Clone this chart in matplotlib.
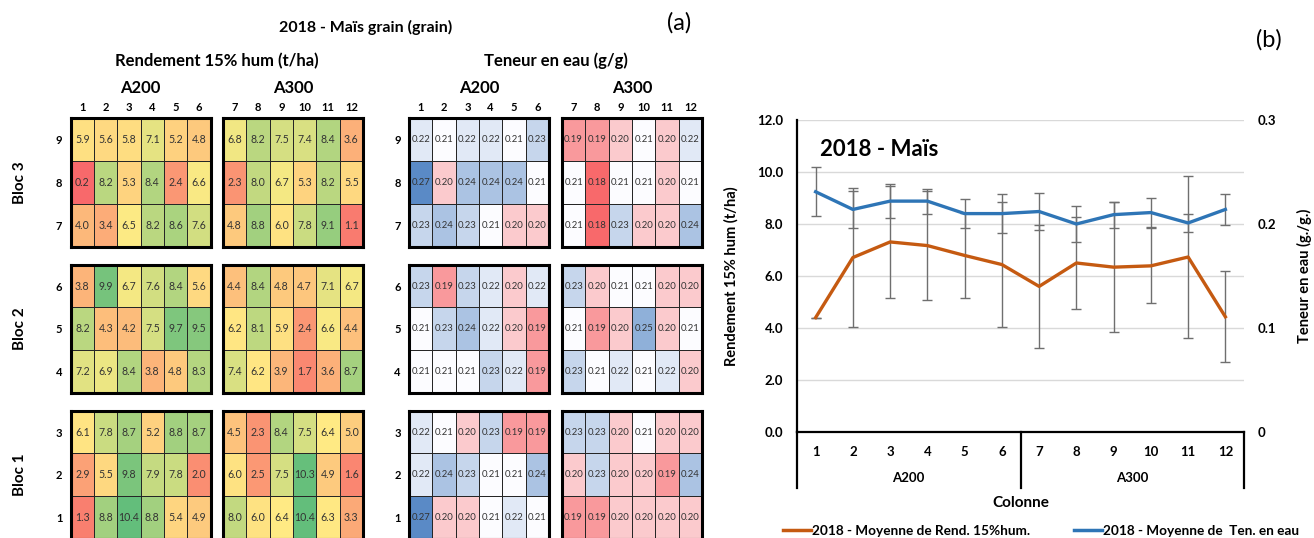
import matplotlib
matplotlib.use("Agg")
import matplotlib.pyplot as plt
import numpy as np
from matplotlib.colors import LinearSegmentedColormap, Normalize
from matplotlib.lines import Line2D

plt.rcParams['font.family'] = ['Lato', 'DejaVu Sans']

# ---- data -------------------------------------------------------------
rows = [9, 8, 7, 6, 5, 4, 3, 2, 1]          # top to bottom
cols_a200 = [1, 2, 3, 4, 5, 6]
cols_a300 = [7, 8, 9, 10, 11, 12]
blocs = ['Bloc 3', 'Bloc 2', 'Bloc 1']

# Rendement 15% hum (t/ha), rows 9 -> 1
rend_a200 = [[5.9, 5.6, 5.8, 7.1, 5.2, 4.8],
             [0.2, 8.2, 5.3, 8.4, 2.4, 6.6],
             [4.0, 3.4, 6.5, 8.2, 8.6, 7.6],
             [3.8, 9.9, 6.7, 7.6, 8.4, 5.6],
             [8.2, 4.3, 4.2, 7.5, 9.7, 9.5],
             [7.2, 6.9, 8.4, 3.8, 4.8, 8.3],
             [6.1, 7.8, 8.7, 5.2, 8.8, 8.7],
             [2.9, 5.5, 9.8, 7.9, 7.8, 2.0],
             [1.3, 8.8, 10.4, 8.8, 5.4, 4.9]]
rend_a300 = [[6.8, 8.2, 7.5, 7.4, 8.4, 3.6],
             [2.3, 8.0, 6.7, 5.3, 8.2, 5.5],
             [4.8, 8.8, 6.0, 7.8, 9.1, 1.1],
             [4.4, 8.4, 4.8, 4.7, 7.1, 6.7],
             [6.2, 8.1, 5.9, 2.4, 6.6, 4.4],
             [7.4, 6.2, 3.9, 1.7, 3.6, 8.7],
             [4.5, 2.3, 8.4, 7.5, 6.4, 5.0],
             [6.0, 2.5, 7.5, 10.3, 4.9, 1.6],
             [8.0, 6.0, 6.4, 10.4, 6.3, 3.3]]

# Teneur en eau (g/g), rows 9 -> 1
eau_a200 = [[0.22, 0.21, 0.22, 0.22, 0.21, 0.23],
            [0.27, 0.20, 0.24, 0.24, 0.24, 0.21],
            [0.23, 0.24, 0.23, 0.21, 0.20, 0.20],
            [0.23, 0.19, 0.23, 0.22, 0.20, 0.22],
            [0.21, 0.23, 0.24, 0.22, 0.20, 0.19],
            [0.21, 0.21, 0.21, 0.23, 0.22, 0.19],
            [0.22, 0.21, 0.20, 0.23, 0.19, 0.19],
            [0.22, 0.24, 0.23, 0.21, 0.21, 0.24],
            [0.27, 0.20, 0.20, 0.21, 0.22, 0.21]]
eau_a300 = [[0.19, 0.19, 0.20, 0.21, 0.20, 0.22],
            [0.21, 0.18, 0.21, 0.21, 0.20, 0.21],
            [0.21, 0.18, 0.23, 0.20, 0.20, 0.24],
            [0.23, 0.20, 0.21, 0.21, 0.20, 0.20],
            [0.21, 0.19, 0.20, 0.25, 0.20, 0.21],
            [0.23, 0.21, 0.22, 0.21, 0.22, 0.20],
            [0.23, 0.23, 0.20, 0.21, 0.20, 0.20],
            [0.20, 0.23, 0.20, 0.20, 0.19, 0.24],
            [0.19, 0.19, 0.20, 0.20, 0.20, 0.20]]

# line chart (b)
colonnes = [1, 2, 3, 4, 5, 6, 7, 8, 9, 10, 11, 12]
rend_moy = [4.40, 6.71, 7.31, 7.17, 6.79, 6.44, 5.60, 6.50, 6.34, 6.39, 6.73, 4.43]
rend_err = [0.0, 2.68, 2.17, 2.10, 1.64, 2.40, 2.38, 1.77, 2.50, 1.44, 3.10, 1.75]
eau_moy = [0.231, 0.214, 0.222, 0.222, 0.210, 0.210, 0.212, 0.200, 0.209, 0.211, 0.201, 0.214]
eau_err = [0.0235, 0.0175, 0.0165, 0.012, 0.014, 0.0185, 0.0175, 0.0175, 0.0125, 0.014, 0.009, 0.015]

# ---- figure -----------------------------------------------------------
W, H = 1314, 538
fig = plt.figure(figsize=(W / 100, H / 100), dpi=100)


def px_axes(x0, y0, x1, y1):
    return fig.add_axes([x0 / W, 1 - y1 / H, (x1 - x0) / W, (y1 - y0) / H])


def excel_scale(values, c_lo, c_mid, c_hi):
    v = np.asarray(values, dtype=float)
    lo, hi, mid = v.min(), v.max(), np.percentile(v, 50)
    f = (mid - lo) / (hi - lo)
    cmap = LinearSegmentedColormap.from_list('s', [(0, c_lo), (f, c_mid), (1, c_hi)])
    return cmap, Normalize(lo, hi)


rend_cmap, rend_norm = excel_scale(rend_a200 + rend_a300, '#F8696B', '#FFEB84', '#63BE7B')
eau_cmap, eau_norm = excel_scale(eau_a200 + eau_a300, '#F8696B', '#FCFCFF', '#5A8AC6')

bloc_y = [(118, 246.7), (264.7, 392.7), (410.7, 538.7)]
# x0, x1, data, columns, cmap, norm, format, fontsize, row labels?
groups = [
    (70.7, 210.7, rend_a200, cols_a200, rend_cmap, rend_norm, '%.1f', 7.6, True),
    (223, 363, rend_a300, cols_a300, rend_cmap, rend_norm, '%.1f', 7.6, False),
    (409, 549, eau_a200, cols_a200, eau_cmap, eau_norm, '%.2f', 6.8, True),
    (562, 702, eau_a300, cols_a300, eau_cmap, eau_norm, '%.2f', 6.8, False),
]

for gx0, gx1, data, cols, cmap, norm, fmt, fs, rowlab in groups:
    arr = np.array(data)
    for b, (y0, y1) in enumerate(bloc_y):
        ax = px_axes(gx0, y0, gx1, y1)
        sub = arr[3 * b:3 * b + 3]
        ax.pcolormesh(sub, cmap=cmap, norm=norm, edgecolors='#262626', linewidth=0.7)
        ax.set_xlim(0, 6)
        ax.set_ylim(3, 0)
        for i in range(3):
            for j in range(6):
                ax.text(j + 0.5, i + 0.5, fmt % sub[i, j], ha='center', va='center',
                        fontsize=fs, color='#333333')
        if rowlab:
            ax.set_yticks([0.5, 1.5, 2.5])
            ax.set_yticklabels(rows[3 * b:3 * b + 3], fontsize=8, fontweight='bold')
            ax.tick_params(axis='y', length=0, pad=6)
        else:
            ax.set_yticks([])
        if b == 0:
            ax.xaxis.tick_top()
            ax.set_xticks(np.arange(6) + 0.5)
            ax.set_xticklabels(cols, fontsize=8, fontweight='bold')
            ax.tick_params(axis='x', length=0, pad=3.5)
        else:
            ax.set_xticks([])
        for s in ax.spines.values():
            s.set_linewidth(2.2)
            s.set_color('black')

# heatmap titles
fig.text(366 / W, 1 - 27 / H, '2018 - Maïs grain (grain)', ha='center', va='center',
         fontsize=11.5, fontweight='bold')
fig.text(679 / W, 1 - 23 / H, '(a)', ha='center', va='center', fontsize=17)
fig.text(1269 / W, 1 - 40 / H, '(b)', ha='center', va='center', fontsize=17)
fig.text(217 / W, 1 - 61 / H, 'Rendement 15% hum (t/ha)', ha='center', va='center',
         fontsize=12, fontweight='bold')
fig.text(555.5 / W, 1 - 61 / H, 'Teneur en eau (g/g)', ha='center', va='center',
         fontsize=12, fontweight='bold')
for gx0, gx1, _, cols, *_rest in groups:
    fig.text((gx0 + gx1) / 2 / W, 1 - 88 / H, 'A200' if cols[0] == 1 else 'A300',
             ha='center', va='center', fontsize=12, fontweight='bold')
for name, (y0, y1) in zip(blocs, bloc_y):
    fig.text(20 / W, 1 - (y0 + y1) / 2 / H, name, rotation=90, ha='center', va='center',
             fontsize=11, fontweight='bold')

# ---- line chart (b) ---------------------------------------------------
ax = px_axes(797, 120, 1244, 432)
x = np.arange(len(colonnes)) + 0.5
ax.set_xlim(0, 12)
ax.set_ylim(0, 12)
ax.set_yticks(np.arange(0, 13, 2))
ax.set_yticklabels(['%.1f' % v for v in np.arange(0, 13, 2)], fontsize=9.5, fontweight='bold')
ax.set_xticks(x)
ax.set_xticklabels(colonnes, fontsize=9.5, fontweight='bold')
ax.tick_params(axis='both', length=0)
ax.tick_params(axis='y', pad=10)
ax.tick_params(axis='x', pad=10)
ax.grid(axis='y', color='#D9D9D9', linewidth=1)
ax.set_axisbelow(True)
for s in ['top', 'right']:
    ax.spines[s].set_visible(False)
ax.spines['left'].set_linewidth(1.6)
ax.spines['bottom'].set_linewidth(1.6)

ax.errorbar(x, rend_moy, yerr=rend_err, fmt='none', ecolor='#6F6F6F', elinewidth=1,
            capsize=3.5, capthick=1, zorder=2)
ax.plot(x, rend_moy, color='#C55A11', linewidth=2.4, zorder=3)

ax2 = ax.twinx()
ax2.set_ylim(0, 0.3)
ax2.set_yticks([0, 0.1, 0.2, 0.3])
ax2.set_yticklabels(['0', '0.1', '0.2', '0.3'], fontsize=9.5, fontweight='bold')
ax2.tick_params(axis='y', length=0, pad=10)
for s in ax2.spines.values():
    s.set_visible(False)
ax2.errorbar(x, eau_moy, yerr=eau_err, fmt='none', ecolor='#6F6F6F', elinewidth=1,
             capsize=3.5, capthick=1, zorder=2)
ax2.plot(x, eau_moy, color='#2E75B6', linewidth=2.4, zorder=3)

ax.set_ylabel('Rendement 15% hum (t/ha)', fontsize=10.5, fontweight='bold')
ax.yaxis.set_label_coords(-0.13, 0.5)
ax2.set_ylabel('Teneur en eau (g./g.)', fontsize=10.5, fontweight='bold')
ax2.yaxis.set_label_coords(1.118, 0.5)

ax.text(0.051, 0.905, '2018 - Maïs', transform=ax.transAxes, ha='left', va='center',
        fontsize=16, fontweight='bold')

tr = ax.get_xaxis_transform()
for xs in [0, 6, 12]:
    ax.plot([xs, xs], [0, -0.18], transform=tr, color='black', linewidth=1.6,
            clip_on=False)
ax.text(3, -0.147, 'A200', transform=tr, ha='center', va='center', fontsize=9.5,
        fontweight='bold')
ax.text(9, -0.147, 'A300', transform=tr, ha='center', va='center', fontsize=9.5,
        fontweight='bold')
ax.text(6, -0.228, 'Colonne', transform=tr, ha='center', va='center', fontsize=11,
        fontweight='bold')

handles = [Line2D([], [], color='#C55A11', linewidth=2.5),
           Line2D([], [], color='#2E75B6', linewidth=2.5)]
fig.legend(handles, ['2018 - Moyenne de Rend. 15%hum.', '2018 - Moyenne de  Ten. en eau'],
           loc='center', bbox_to_anchor=(1041 / W, 1 - 531 / H), ncol=2, frameon=False,
           prop={'size': 9.8, 'weight': 'bold'}, handlelength=2.1, handletextpad=0.05,
           columnspacing=3.2)

fig.savefig('out.png', dpi=100)
